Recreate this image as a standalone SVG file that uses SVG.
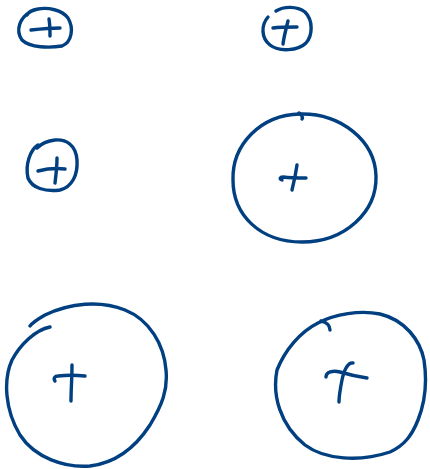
<svg xmlns="http://www.w3.org/2000/svg" width="430" height="469" viewBox="0 0 430 469">
<style>
.s{fill:none;stroke:#003f80;stroke-width:3.4;stroke-linecap:round;stroke-linejoin:round}
</style>
<rect width="430" height="469" fill="#ffffff"/>
<g id="n1" class="s">
<path d="M30,12 C20,18 15,30 22,40 C30,48 50,48 62,46 C72,42 74,28 68,18 C62,10 48,7 38,9 C32,10 28,13 27,15"/>
<path d="M31,30 C40,29 50,28 60,28"/>
<path d="M49,19 C50,25 50,30 50,36"/>
</g>
<g id="n2" class="s">
<path d="M268,17 C261,25 261,38 270,45 C279,52 298,51 306,43 C313,35 313,20 305,12 C297,6 284,6 276,11"/>
<path d="M273,28 C280,27 290,27 297,27"/>
<path d="M288,21 C286,29 284,36 283,44"/>
</g>
<g id="n3" class="s">
<path d="M38,145 C30,150 25,165 28,178 C32,188 45,192 60,190 C72,187 78,175 77,160 C76,145 66,139 55,140 C46,141 40,145 37,148"/>
<path d="M38,171 C46,169 56,168 65,169"/>
<path d="M57,158 C57,165 56,175 55,183"/>
</g>
<g id="n4" class="s">
<path d="M233,180 C232,145 260,115 300,114 C340,113 375,140 376,176 C377,212 345,242 302,242 C260,242 233,215 233,180"/>
<path d="M299,113 C302,115 303,117 302,119"/>
<path d="M282,180 C279,179 280,177 283,177 C291,178 299,178 306,178"/>
<path d="M297,165 C296,172 294,182 292,190"/>
</g>
<g id="n5" class="s">
<path d="M50,327 C35,330 20,345 12,360 C3,380 5,410 20,435 C35,458 65,468 90,466 C115,463 135,448 150,425 C162,405 168,390 166,370 C164,345 150,320 125,310 C100,300 70,303 45,315 C38,319 33,322 30,326"/>
<path d="M55,381 C53,378 55,376 58,376 C66,375 76,375 85,376"/>
<path d="M72,365 C72,378 71,390 71,401"/>
</g>
<g id="n6" class="s">
<path d="M318,323 C300,332 285,350 277,370 C272,395 280,425 305,445 C325,460 360,462 390,452 C405,445 412,435 418,420 C426,400 427,380 424,360 C420,340 405,320 380,314 C360,310 335,314 318,323"/>
<path d="M321,321 C327,322 330,326 330,330"/>
<path d="M326,377 C326,372 333,370 340,372 C350,375 360,377 367,378"/>
<path d="M353,363 C348,362 344,370 342,380 C340,390 339,396 339,402"/>
</g>
<g id="connectors"></g>
</svg>
